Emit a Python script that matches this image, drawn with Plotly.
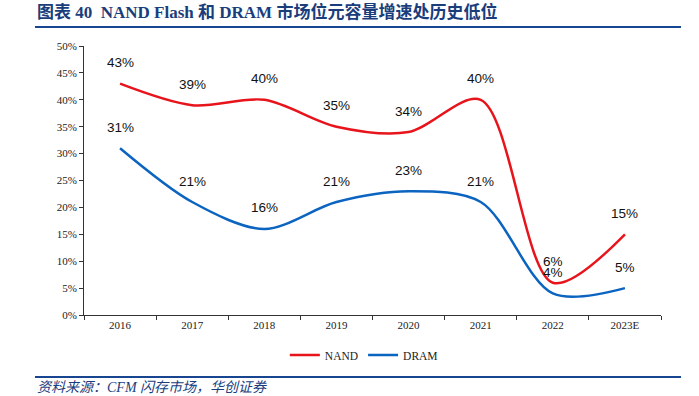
import plotly.graph_objects as go

years = ["2016", "2017", "2018", "2019", "2020", "2021", "2022", "2023E"]
nand = [43, 39, 40, 35, 34, 40, 6, 15]
dram = [31, 21, 16, 21, 23, 21, 4, 5]
y_ticks = [0, 5, 10, 15, 20, 25, 30, 35, 40, 45, 50]
y_tick_labels = [f"{v}%" for v in y_ticks]

RED = "#E8141C"
BLUE = "#0B64C0"
TITLE_BLUE = "#1A3D7C"

xi = list(range(len(years)))
PH = 269.0  # plot height px
PW = 577.0  # plot width px

fig = go.Figure()
fig.add_trace(go.Scatter(x=xi, y=nand, mode="lines", name="NAND",
                         line=dict(color=RED, width=2.5, shape="spline", smoothing=0.9)))
fig.add_trace(go.Scatter(x=xi, y=dram, mode="lines", name="DRAM",
                         line=dict(color=BLUE, width=2.5, shape="spline", smoothing=0.9)))

for series in (nand, dram):
    for xv, yv in zip(xi, series):
        fig.add_annotation(x=xv, y=yv, text=f"{yv}%", showarrow=False, yshift=21,
                           font=dict(family="Liberation Sans, Arial", size=13.5, color="#111111"))

# title
fig.add_annotation(xref="paper", yref="paper", x=-49 / PW, y=1 + 34 / PH,
                   xanchor="left", yanchor="middle", showarrow=False,
                   text="<b>图表 40  NAND Flash 和 DRAM 市场位元容量增速处历史低位</b>",
                   font=dict(family="Liberation Serif, Noto Sans CJK SC", size=17, color=TITLE_BLUE))
fig.update_layout(
    width=699, height=396,
    margin=dict(l=84, r=38, t=46, b=81, autoexpand=False),
    paper_bgcolor="white", plot_bgcolor="white",
    showlegend=True,
    legend=dict(orientation="h", x=0.485, xanchor="center", y=-40 / PH, yanchor="middle",
                font=dict(family="Liberation Serif, Times New Roman", size=11.5, color="#222222"),
                tracegroupgap=0),
    xaxis=dict(range=[-0.5, 7.5], tickmode="array", tickvals=xi, ticktext=years, ticks="",
               showline=True, linecolor="#333333", linewidth=1, automargin=False,
               minor=dict(tick0=-0.5, dtick=1, ticks="outside", ticklen=4, tickcolor="#333333", showgrid=False),
               showgrid=False, zeroline=False,
               tickfont=dict(family="Liberation Serif, Times New Roman", size=11, color="#222222")),
    yaxis=dict(range=[0, 50], tickvals=y_ticks, ticktext=y_tick_labels, ticks="outside", ticklen=4,
               tickcolor="#333333", showline=True, linecolor="#333333", linewidth=1,
               showgrid=False, zeroline=False, automargin=False,
               tickfont=dict(family="Liberation Serif, Times New Roman", size=11, color="#222222")),
)

# title underline and footer line
fig.add_shape(type="line", xref="paper", yref="paper", x0=-49 / PW, x1=597 / PW, y0=1 + 19 / PH, y1=1 + 19 / PH,
              line=dict(color="#17458F", width=2))
fig.add_shape(type="line", xref="paper", yref="paper", x0=-49 / PW, x1=597 / PW, y0=-62 / PH, y1=-62 / PH,
              line=dict(color="#17458F", width=2))
fig.add_annotation(xref="paper", yref="paper", x=-49 / PW, y=-73 / PH, xanchor="left", yanchor="middle",
                   showarrow=False, text="<i>资料来源：CFM 闪存市场，华创证券</i>",
                   font=dict(family="Liberation Serif, Noto Sans CJK SC", size=14, color="#1A3D7C"))

fig.write_html("out.html", config={"displayModeBar": False},
               post_script="document.body.style.margin='0';")
